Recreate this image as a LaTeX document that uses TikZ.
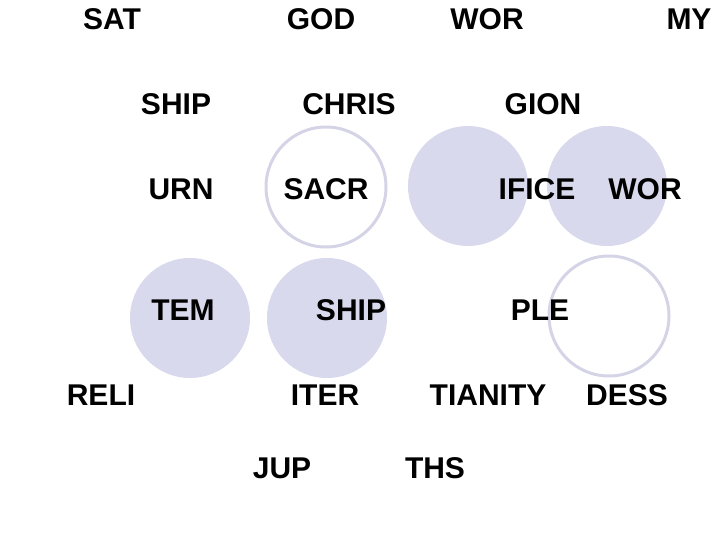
\documentclass[tikz,border=0pt]{standalone}
\usepackage{fontspec}
\setmainfont{Liberation Sans}
\definecolor{lavfill}{RGB}{217,217,237}
\definecolor{lavline}{RGB}{212,212,230}
\begin{document}
\begin{tikzpicture}[x=1pt,y=-1pt,
	word/.style={anchor=base,inner sep=0pt,font=\bfseries\fontsize{30}{36}\selectfont},
	disc/.style={fill=lavfill},
	ring/.style={draw=lavline,line width=3pt}]
	\useasboundingbox (0,0) rectangle (720,540);
	\foreach \x/\y in {468/186,607/186,190/318,327/318}
		\fill[disc] (\x,\y) circle (60);
	\foreach \x/\y in {326/187,609/316}
		\draw[ring] (\x,\y) circle (60);
	\node[word] (sat) at (112,30) {SAT};
	\node[word] (god) at (321,30) {GOD};
	\node[word] (wora) at (487,30) {WOR};
	\node[word] (my) at (689,30) {MY};
	\node[word] (shipa) at (176,115) {SHIP};
	\node[word] (chris) at (349,115) {CHRIS};
	\node[word] (gion) at (543,115) {GION};
	\node[word] (urn) at (181,200) {URN};
	\node[word] (sacr) at (326,200) {SACR};
	\node[word] (ifice) at (537,200) {IFICE};
	\node[word] (worb) at (645,200) {WOR};
	\node[word] (tem) at (183,320) {TEM};
	\node[word] (shipb) at (351,320) {SHIP};
	\node[word] (ple) at (540,320) {PLE};
	\node[word] (reli) at (101,405) {RELI};
	\node[word] (iter) at (325,405) {ITER};
	\node[word] (tianity) at (488,405) {TIANITY};
	\node[word] (dess) at (627,405) {DESS};
	\node[word] (jup) at (282,478) {JUP};
	\node[word] (ths) at (435,478) {THS};
\end{tikzpicture}
\end{document}
